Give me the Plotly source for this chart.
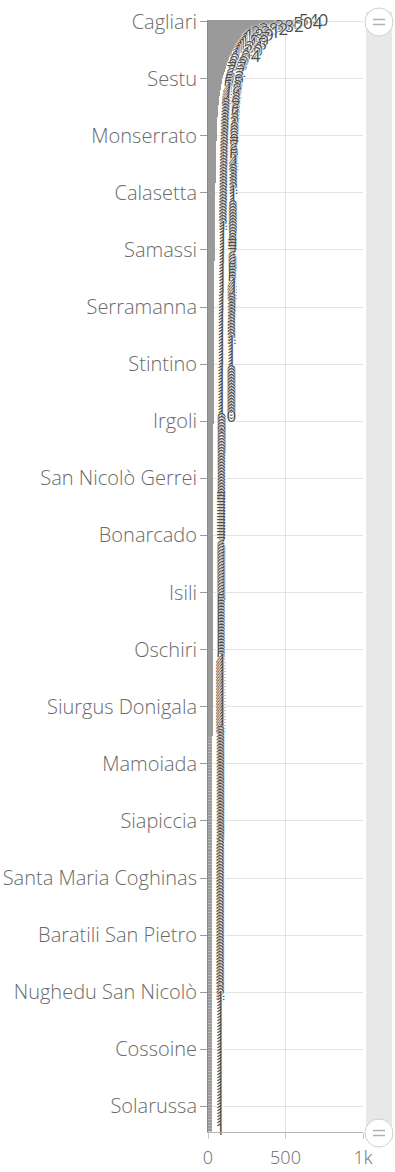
import plotly.graph_objects as go

# Comuni shown on the category axis (one every 19 ranks)
etichette_comuni = [
    "Cagliari", "Sestu", "Monserrato", "Calasetta", "Samassi", "Serramanna",
    "Stintino", "Irgoli", "San Nicolò Gerrei", "Bonarcado", "Isili", "Oschiri",
    "Siurgus Donigala", "Mamoiada", "Siapiccia", "Santa Maria Coghinas",
    "Baratili San Pietro", "Nughedu San Nicolò", "Cossoine", "Solarussa",
]
passo_etichette = 19

# Values per comune, sorted in descending order
valori_principali = [540, 504, 382, 282, 231, 189, 167, 159, 145, 131, 120, 112, 104]

valori_due_cifre = [
    96, 89, 83, 77, 72, 67, 63, 59, 55, 52,
    49, 46, 44, 42, 40, 38, 37, 36, 35, 34,
    33, 32, 31, 30, 30, 29, 28, 28, 27, 27,
    26, 26, 25, 25, 24, 24, 24, 23, 23, 23,
    22, 22, 22, 22, 21, 21, 21, 21, 21, 20,
    20, 20, 20, 20, 20, 20,
]

valori_dieci_diciannove = [
    19, 19, 19, 18, 18, 18, 17, 17, 17, 17,
    16, 16, 16, 16, 15, 15, 15, 15, 15, 14,
    14, 14, 14, 14, 13, 13, 13, 13, 13, 13,
    12, 12, 12, 12, 12, 12, 12, 12, 11, 11,
    11, 11, 11, 11, 11, 11, 11, 11, 10, 10,
    10, 10, 10, 10, 10, 10, 10, 10, 10, 10,
    10, 10, 10, 10,
]

valori_una_cifra = [
    9, 9, 9, 9, 9, 9, 9, 9, 9, 9, 9, 9,
    8, 8, 8, 8, 8, 8, 8, 8, 8, 8, 8, 8, 8, 8,
    7, 7, 7, 7, 7, 7, 7, 7, 7, 7, 7, 7, 7, 7, 7, 7,
    6, 6, 6, 6, 6, 6, 6, 6, 6, 6, 6, 6, 6, 6, 6, 6, 6, 6,
    5, 5, 5, 5, 5, 5, 5, 5, 5, 5, 5, 5, 5, 5, 5, 5, 5, 5, 5, 5,
    4, 4, 4, 4, 4, 4, 4, 4, 4, 4, 4, 4, 4, 4, 4, 4, 4, 4, 4, 4, 4, 4, 4, 4,
    3, 3, 3, 3, 3, 3, 3, 3, 3, 3, 3, 3, 3, 3, 3, 3, 3, 3,
    3, 3, 3, 3, 3, 3, 3, 3, 3, 3, 3, 3, 3, 3, 3, 3, 3, 3,
    2, 2, 2, 2, 2, 2, 2, 2, 2, 2, 2, 2, 2, 2, 2, 2, 2, 2, 2, 2, 2, 2, 2, 2, 2, 2,
    2, 2, 2, 2, 2, 2, 2, 2, 2, 2, 2, 2, 2, 2, 2, 2, 2, 2, 2, 2, 2, 2, 2, 2, 2, 2,
]

valori_uno = [
    1, 1, 1, 1, 1, 1, 1, 1, 1, 1, 1, 1, 1, 1, 1,
    1, 1, 1, 1, 1, 1, 1, 1, 1, 1, 1, 1, 1, 1, 1,
    1, 1, 1, 1, 1, 1, 1, 1, 1, 1, 1, 1, 1, 1, 1,
]

valori = valori_principali + valori_due_cifre + valori_dieci_diciannove + valori_una_cifra + valori_uno
n = len(valori)
ranghi = list(range(n))

fig = go.Figure()

fig.add_trace(go.Bar(
    y=ranghi, x=valori, orientation="h",
    marker=dict(color="#9a9a9a", line=dict(color="#9a9a9a", width=9)),
    hoverinfo="skip", showlegend=False,
))
fig.add_trace(go.Scatter(
    y=ranghi, x=valori, mode="markers+text", text=[str(v) for v in valori],
    textposition="middle right",
    marker=dict(size=10, opacity=0),
    textfont=dict(family="Open Sans", size=17, color="#4e4e4e",
                  shadow="1px 0px 1px #ffffff, -1px 0px 1px #ffffff"),
    hoverinfo="skip", showlegend=False, cliponaxis=False,
))

tick_pos = [i * passo_etichette for i in range(len(etichette_comuni))]

fig.update_layout(
    width=395, height=1172,
    margin=dict(l=208, r=32, t=20, b=40, autoexpand=False),
    paper_bgcolor="white", plot_bgcolor="white",
    bargap=0,
    font=dict(family="Open Sans", color="#6a6a6a"),
    xaxis=dict(
        range=[0, 1000], tickvals=[0, 500, 1000], ticktext=["0", "500", "1k"],
        showgrid=True, gridcolor="#e3e3e3", gridwidth=1,
        zeroline=False, showline=True, linecolor="#b5b5b5",
        ticks="outside", ticklen=6, tickcolor="#c8c8c8",
        ticklabelstandoff=3, automargin=False,
        tickfont=dict(size=18, color="#6a6a6a", weight=300),
        fixedrange=True,
    ),
    yaxis=dict(
        range=[n - 0.5, -0.5], tickvals=tick_pos, ticktext=etichette_comuni,
        showgrid=True, gridcolor="#e3e3e3", gridwidth=1,
        zeroline=False, showline=True, linecolor="#8a8a8a",
        ticks="outside", ticklen=7, tickcolor="#9a9a9a",
        ticklabelstandoff=-1, automargin=False,
        tickfont=dict(size=20, color="#6a6a6a", weight=300),
        fixedrange=True,
    ),
)

# Scrollbar on the right with its two grips
def px_x(p):
    return (p - 208) / 155.0

def px_y(p):
    return (1132 - p) / 1112.0

shapes = [
    dict(type="rect", xref="paper", yref="paper",
         x0=px_x(366), x1=px_x(392), y0=px_y(1140), y1=px_y(12),
         fillcolor="#e8e8e8", line=dict(width=0), layer="below"),
]
for cy in (22, 1133):
    shapes.append(dict(type="circle", xref="paper", yref="paper",
                       x0=px_x(365), x1=px_x(393), y0=px_y(cy + 14), y1=px_y(cy - 14),
                       fillcolor="white", line=dict(color="#d0d0d0", width=1)))
    for dy in (-2.5, 2.5):
        shapes.append(dict(type="line", xref="paper", yref="paper",
                           x0=px_x(373), x1=px_x(385), y0=px_y(cy + dy), y1=px_y(cy + dy),
                           line=dict(color="#b0b0b0", width=1.5)))
fig.update_layout(shapes=shapes)

fig.write_html("out.html")
